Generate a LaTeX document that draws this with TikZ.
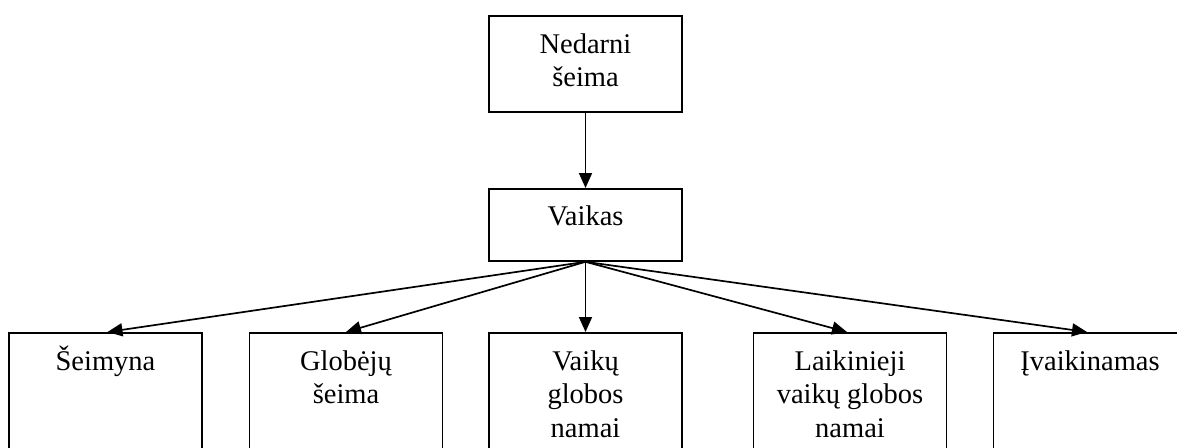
\documentclass[tikz,border=0pt]{standalone}
\usepackage{fontspec}
\setmainfont{Liberation Serif}
\usetikzlibrary{arrows.meta}
\newcommand\tstrut{\rule{0pt}{25pt}}
\tikzset{
  box/.style={draw, line width=1.8pt, minimum width=193pt, inner sep=0pt, anchor=north},
  lbl/.style={anchor=north, inner sep=0pt, align=center, font=\fontsize{28.5}{33.5}\selectfont},
  conn/.style={line width=1.7pt, -{Triangle[length=15pt,width=13pt]}}
}
\begin{document}
\begin{tikzpicture}[x=1pt,y=-1pt]
\useasboundingbox (0,0) rectangle (1177,447);
\clip (0,0) rectangle (1177,447);
% top boxes
\node[box, minimum height=96pt] (ned) at (585.5,15) {};
\node[lbl] (nedt) at ([yshift=-13pt]ned.north) {\tstrut Nedarni\\šeima};
\node[box, minimum height=72pt] (vai) at (585.5,188) {};
\node[lbl] (vait) at ([yshift=-12pt]vai.north) {\tstrut Vaikas};
% bottom boxes (extend beyond the lower edge)
\node[box, minimum height=160pt] (b1) at (105.5,332) {};
\node[box, minimum height=160pt] (b2) at (346,332) {};
\node[box, minimum height=160pt] (b3) at (585.5,332) {};
\node[box, minimum height=160pt] (b4) at (850,332) {};
\node[box, minimum height=160pt] (b5) at (1090,332) {};
\node[lbl] (t1) at ([yshift=-13pt]b1.north) {\tstrut Šeimyna};
\node[lbl] (t2) at ([yshift=-13pt]b2.north) {\tstrut Globėjų\\šeima};
\node[lbl] (t3) at ([yshift=-13pt]b3.north) {\tstrut Vaikų\\globos\\namai};
\node[lbl] (t4) at ([yshift=-13pt]b4.north) {\tstrut Laikinieji\\vaikų globos\\namai};
\node[lbl] (t5) at ([yshift=-13pt]b5.north) {\tstrut Įvaikinamas};
% connectors
\draw[conn] (ned.south) -- (vai.north);
\draw[conn] (vai.south) -- ([xshift=2pt]b1.north);
\draw[conn] (vai.south) -- (b2.north);
\draw[conn] (vai.south) -- (b3.north);
\draw[conn] (vai.south) -- ([xshift=-3pt]b4.north);
\draw[conn] (vai.south) -- ([xshift=-3pt]b5.north);
\end{tikzpicture}
\end{document}
